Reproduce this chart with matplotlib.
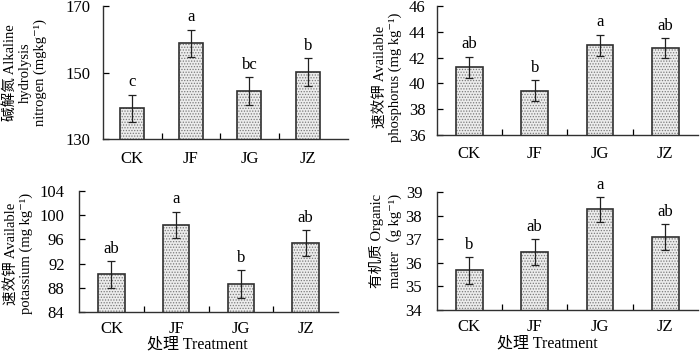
import matplotlib
matplotlib.use("Agg")
import matplotlib.pyplot as plt

plt.rcParams['font.family'] = ['Liberation Serif', 'Noto Sans CJK SC', 'DejaVu Serif']
plt.rcParams['hatch.color'] = '#7a7a7a'
plt.rcParams['hatch.linewidth'] = 0.6

treatments = ["CK", "JF", "JG", "JZ"]

# alkaline hydrolysis nitrogen
n_mean = [139.3, 158.8, 144.4, 150.3]
n_err = [4.1, 4.2, 4.2, 4.2]
n_sig = ["c", "a", "bc", "b"]

# available phosphorus
p_mean = [41.26, 39.45, 42.96, 42.75]
p_err = [0.82, 0.81, 0.82, 0.79]
p_sig = ["ab", "b", "a", "ab"]

# available potassium
k_mean = [90.24, 98.4, 88.64, 95.4]
k_err = [2.2, 2.2, 2.25, 2.2]
k_sig = ["ab", "a", "b", "ab"]

# organic matter
om_mean = [35.68, 36.46, 38.27, 37.09]
om_err = [0.56, 0.54, 0.53, 0.55]
om_sig = ["b", "ab", "a", "ab"]

fig = plt.figure(figsize=(7.0, 3.51), dpi=100)

# rect, data, ylim, yticks, ylabel, xmax, tick pads, ylabel coords, xlabel coords
panels = [
    ([0.147, 0.604, 0.350, 0.378], n_mean, n_err, n_sig, (130, 170), [130, 150, 170],
     "碱解氮 Alkaline\nhydrolysis\nnitrogen (mgkg⁻¹)", 3.68, 9, 9, (-0.229, 0.5), None),
    ([0.624, 0.615, 0.373, 0.368], p_mean, p_err, p_sig, (36, 46), [36, 38, 40, 42, 44, 46],
     "速效钾 Available\nphosphorus (mg kg⁻¹)", 3.5, 8, 8, (-0.134, 0.45), None),
    ([0.113, 0.111, 0.370, 0.345], k_mean, k_err, k_sig, (84, 104), [84, 88, 92, 96, 100, 104],
     "速效钾 Available\npotassium (mg kg⁻¹)", 3.5, 10.5, 6.5, (-0.178, 0.48), (0.456, -0.2)),
    ([0.624, 0.117, 0.373, 0.336], om_mean, om_err, om_sig, (34, 39), [34, 35, 36, 37, 38, 39],
     "有机质 Organic\nmatter（g kg⁻¹)", 3.5, 10.5, 6.5, (-0.134, 0.585), (0.425, -0.215)),
]

x = list(range(len(treatments)))

for rect, mean, err, sig, ylim, yticks, ylab, xmax, ypad, xpad, ylab_xy, xlab_xy in panels:
    ax = fig.add_axes(rect)
    # stippled fill, then outline on top
    ax.bar(x, mean, width=0.41, color='#ececec', hatch='......', edgecolor='#7a7a7a',
           linewidth=0, zorder=2)
    ax.bar(x, mean, width=0.41, fill=False, edgecolor='#303030', linewidth=1.2, zorder=3)
    ax.errorbar(x, mean, yerr=err, fmt='none', ecolor='#202020', elinewidth=0.9,
                capsize=3, capthick=0.9, zorder=4)
    for xi, m, e, s in zip(x, mean, err, sig):
        ax.annotate(s, (xi, m + e), xytext=(0, 3), textcoords='offset points',
                    ha='center', va='bottom', fontsize=12)

    ax.set_ylim(*ylim)
    ax.set_yticks(yticks)
    ax.set_xlim(-0.5, xmax)
    ax.set_xticks(x)
    ax.set_xticklabels(treatments)
    ax.set_xticks([0.5, 1.5, 2.5], minor=True)
    ax.tick_params(axis='x', which='major', length=0, pad=xpad, labelsize=12)
    ax.tick_params(axis='x', which='minor', length=4, direction='in', width=0.9)
    ax.tick_params(axis='y', length=4, direction='in', width=0.9, labelsize=12, pad=ypad)

    for side in ['top', 'right']:
        ax.spines[side].set_visible(False)
    for side in ['left', 'bottom']:
        ax.spines[side].set_linewidth(1.0)
        ax.spines[side].set_color('#303030')

    ax.set_ylabel(ylab, fontsize=10.5, linespacing=1.15)
    ax.yaxis.set_label_coords(*ylab_xy)
    if xlab_xy is not None:
        ax.set_xlabel("处理 Treatment", fontsize=11.5)
        ax.xaxis.set_label_coords(*xlab_xy)

fig.savefig("out.png", dpi=100)
